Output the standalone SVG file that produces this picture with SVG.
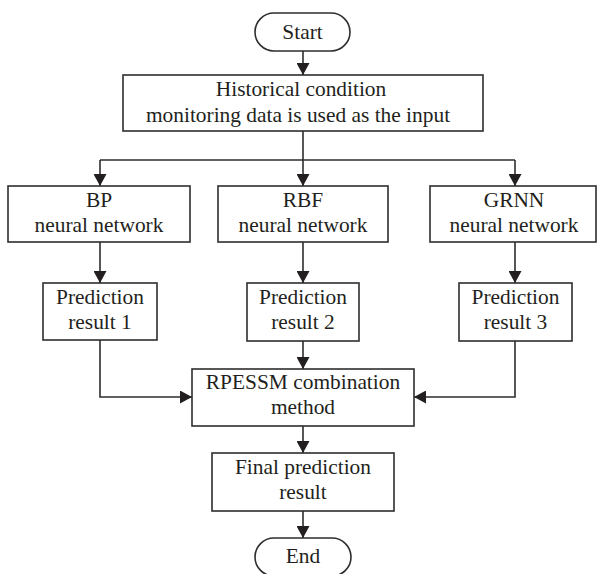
<svg xmlns="http://www.w3.org/2000/svg" width="597" height="574" viewBox="0 0 597 574">
  <style>
    .box { fill: #ffffff; stroke: #2e2e2e; stroke-width: 1.6; }
    .lbl { font-family: "Liberation Serif", "Times New Roman", serif; font-size: 21.4px; fill: #231f20; text-anchor: middle; }
    .wire { fill: none; stroke: #2e2e2e; stroke-width: 1.6; }
    .arr { marker-end: url(#head); }
  </style>
  <defs>
    <marker id="head" markerUnits="userSpaceOnUse" markerWidth="12" markerHeight="13" viewBox="0 0 12 13" refX="12" refY="6.5" orient="auto">
      <path d="M0,0 L12,6.5 L0,13 Z" fill="#231f20"/>
    </marker>
  </defs>

  <rect width="597" height="574" fill="#ffffff"/>

  <g id="connectors">
    <path class="wire arr" d="M303,51 V75"/>
    <path class="wire" d="M303,131 V160 M100,160 H515"/>
    <path class="wire arr" d="M100,160 V186"/>
    <path class="wire arr" d="M303,160 V186"/>
    <path class="wire arr" d="M515,160 V186"/>
    <path class="wire arr" d="M100,242 V283"/>
    <path class="wire arr" d="M303,242 V283"/>
    <path class="wire arr" d="M515,242 V283"/>
    <path class="wire arr" d="M100,340 V397 H192"/>
    <path class="wire arr" d="M303,341 V369"/>
    <path class="wire arr" d="M515,341 V397 H414"/>
    <path class="wire arr" d="M303,426 V453"/>
    <path class="wire arr" d="M303,511 V538"/>
  </g>

  <g id="start">
    <rect class="box" x="255" y="13" width="95" height="38" rx="19" ry="19"/>
    <text class="lbl" x="302.5" y="39">Start</text>
  </g>

  <g id="input">
    <rect class="box" x="123" y="75" width="360" height="56"/>
    <text class="lbl" x="301" y="96">Historical condition</text>
    <text class="lbl" x="298" y="122">monitoring data is used as the input</text>
  </g>

  <g id="bp">
    <rect class="box" x="8" y="186" width="182" height="56"/>
    <text class="lbl" x="99" y="207">BP</text>
    <text class="lbl" x="99" y="232">neural network</text>
  </g>

  <g id="rbf">
    <rect class="box" x="218" y="186" width="170" height="56"/>
    <text class="lbl" x="303" y="207">RBF</text>
    <text class="lbl" x="303" y="232">neural network</text>
  </g>

  <g id="grnn">
    <rect class="box" x="430" y="186" width="166" height="56"/>
    <text class="lbl" x="514" y="207">GRNN</text>
    <text class="lbl" x="514" y="232">neural network</text>
  </g>

  <g id="result1">
    <rect class="box" x="43" y="283" width="114" height="57"/>
    <text class="lbl" x="100" y="304">Prediction</text>
    <text class="lbl" x="100" y="329">result 1</text>
  </g>

  <g id="result2">
    <rect class="box" x="247" y="283" width="112" height="58"/>
    <text class="lbl" x="303" y="304">Prediction</text>
    <text class="lbl" x="303" y="329">result 2</text>
  </g>

  <g id="result3">
    <rect class="box" x="459" y="283" width="113" height="58"/>
    <text class="lbl" x="515.5" y="304">Prediction</text>
    <text class="lbl" x="515.5" y="329">result 3</text>
  </g>

  <g id="combination">
    <rect class="box" x="192" y="369" width="222" height="57"/>
    <text class="lbl" x="303" y="389">RPESSM combination</text>
    <text class="lbl" x="303" y="414">method</text>
  </g>

  <g id="final">
    <rect class="box" x="212" y="453" width="182" height="58"/>
    <text class="lbl" x="303" y="474">Final prediction</text>
    <text class="lbl" x="303" y="499">result</text>
  </g>

  <g id="end">
    <rect class="box" x="255" y="538" width="96" height="38" rx="19" ry="19"/>
    <text class="lbl" x="303" y="563">End</text>
  </g>
</svg>
